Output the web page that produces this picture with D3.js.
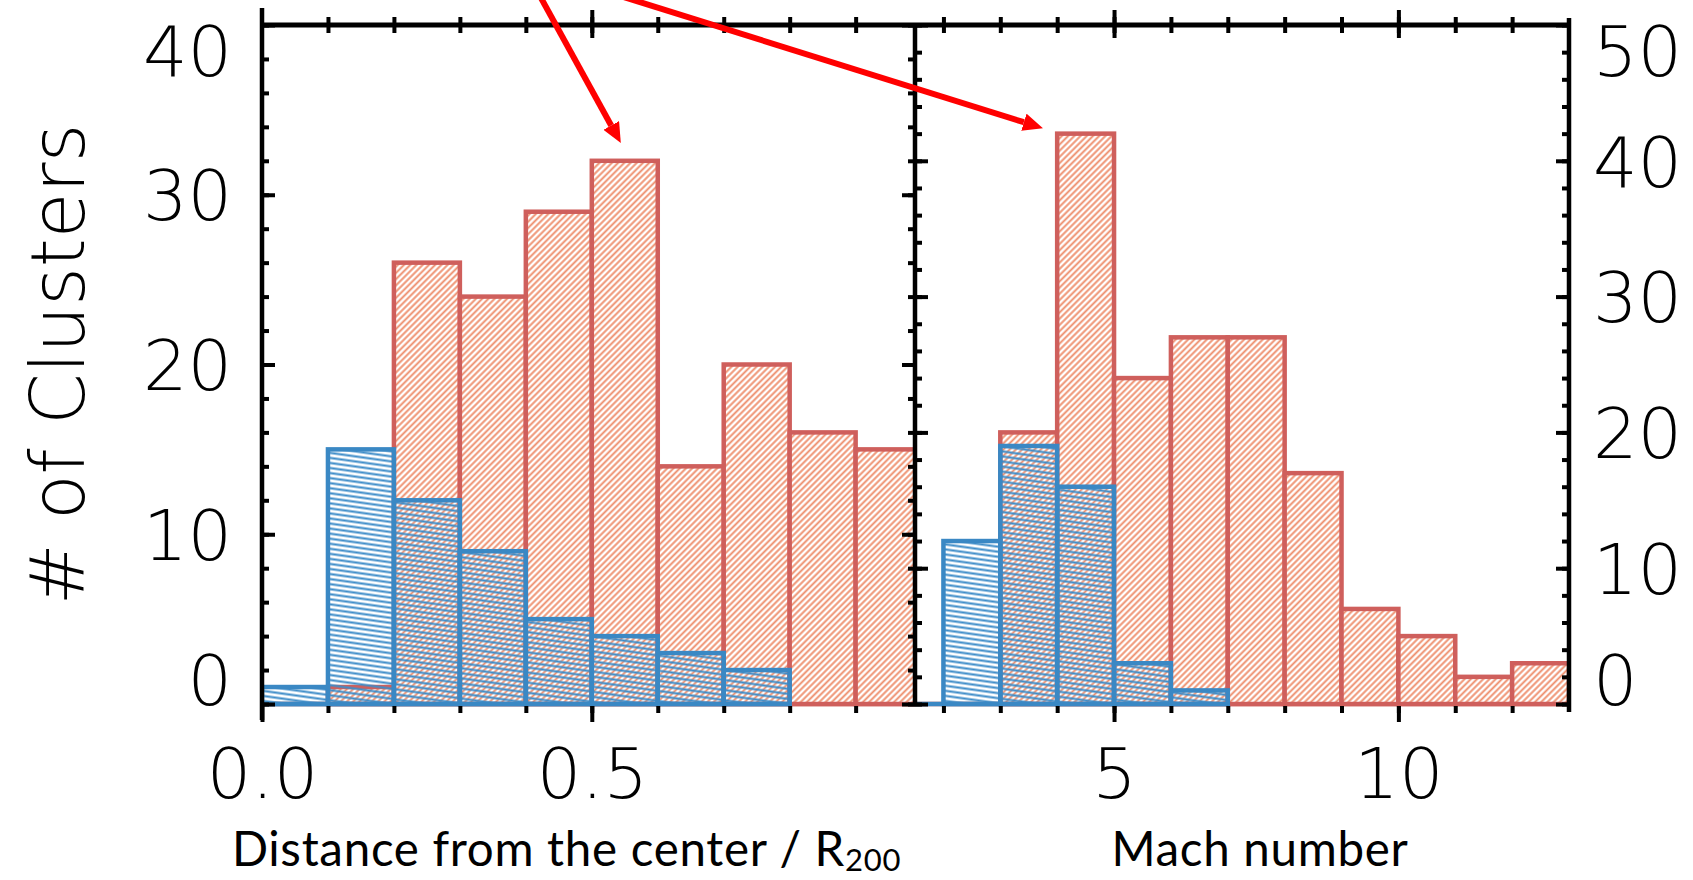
<!DOCTYPE html>
<html>
<head>
<meta charset="utf-8">
<script src="https://cdn.jsdelivr.net/npm/d3@7"></script>
<style>
  html, body { margin: 0; padding: 0; background: #fff; }
  svg { display: block; }
  .num { font-family: "DejaVu Sans", "Lato", sans-serif; font-weight: 200; fill: #000; }
  .title { font-family: "Lato", "Liberation Sans", sans-serif; fill: #000; letter-spacing: 0.7px; }
</style>
</head>
<body>
<svg id="chart" width="1693" height="880"></svg>
<script>
// ---- histogram data -------------------------------------------------------
// Cluster-centric distance, bins of 0.1 R200 (left edges)
const distEdges = [0.0, 0.1, 0.2, 0.3, 0.4, 0.5, 0.6, 0.7, 0.8, 0.9];
const distAll   = [0, 1, 26, 24, 29, 32, 14, 20, 16, 15];
const distSub   = [1, 15, 12, 9, 5, 4, 3, 2, 0, 0];
const distWidth = 0.1;

// Mach number, bins of width 1 (left edges)
const machEdges = [2, 3, 4, 5, 6, 7, 8, 9, 10, 11, 12];
const machAll   = [0, 20, 42, 24, 27, 27, 17, 7, 5, 2, 3];
const machSub   = [12, 19, 16, 3, 1, 0, 0, 0, 0, 0, 0];
const machWidth = 1;

// tick labels
const distTickLabels = [0.0, 0.5];
const machTickLabels = [5, 10];
const countTicksLeft = [0, 10, 20, 30, 40];
const countTicksRight = [0, 10, 20, 30, 40, 50];

// annotation arrows: common origin (distance-panel units) and tips
const arrowOrigin = { x: 0.396, y: 43.5 };
const arrowTips = [
  { panel: "dist", x: 0.544, y: 33.05 },
  { panel: "mach", x: 3.75, y: 42.4 }
];

// ---- colours ---------------------------------------------------------------
const redEdge = "#cf5f5c", redHatch = "#ee8f6d";
const blueEdge = "#3a88c4", blueHatch = "#3d8cc8";

// ---- scales ----------------------------------------------------------------
const svg = d3.select("#chart");
const xL = d3.scaleLinear().domain([0, 0.99]).range([262, 915]);
const xR = d3.scaleLinear().domain([1.5, 13]).range([915, 1569]);
const yL = d3.scaleLinear().domain([0, 40]).range([704, 25]);
const yR = d3.scaleLinear().domain([0, 50]).range([704, 25]);
const panels = {
  dist: { x: xL, y: yL, edges: distEdges, w: distWidth, all: distAll, sub: distSub },
  mach: { x: xR, y: yR, edges: machEdges, w: machWidth, all: machAll, sub: machSub }
};

// ---- hatch patterns --------------------------------------------------------
const defs = svg.append("defs");
const pRed = defs.append("pattern").attr("id", "hatchRed")
  .attr("patternUnits", "userSpaceOnUse").attr("width", 4.4).attr("height", 4.4)
  .attr("patternTransform", "rotate(-45)");
pRed.append("rect").attr("width", 4.4).attr("height", 4.4).attr("fill", "#fff");
pRed.append("line").attr("x1", 0).attr("x2", 4.4).attr("y1", 2.2).attr("y2", 2.2)
  .attr("stroke", redHatch).attr("stroke-width", 1.9);

const pBlue = defs.append("pattern").attr("id", "hatchBlue")
  .attr("patternUnits", "userSpaceOnUse").attr("width", 12).attr("height", 5)
  .attr("patternTransform", "rotate(8)");
pBlue.append("line").attr("x1", 0).attr("x2", 12).attr("y1", 2.5).attr("y2", 2.5)
  .attr("stroke", blueHatch).attr("stroke-width", 2.1);

Object.entries(panels).forEach(([key, p]) => {
  defs.append("clipPath").attr("id", "clip-" + key)
    .append("rect")
    .attr("x", p.x.range()[0]).attr("width", p.x.range()[1] - p.x.range()[0])
    .attr("y", 0).attr("height", 720);
});

// ---- bottom frame line (sits beneath the histograms) -----------------------
svg.append("line")
  .attr("x1", xL.range()[0]).attr("x2", xR.range()[1])
  .attr("y1", yL(0)).attr("y2", yL(0))
  .attr("stroke", "#000").attr("stroke-width", 4);

// ---- histograms ------------------------------------------------------------
function drawSeries(g, p, values, fill, edge) {
  const bins = p.edges.map((e, i) => ({ x0: e, x1: e + p.w, v: values[i] }));
  const last = d3.max(bins.filter(d => d.v > 0), d => d.x1);
  g.append("line")
    .attr("x1", p.x(p.x.domain()[0])).attr("x2", p.x(last))
    .attr("y1", p.y(0)).attr("y2", p.y(0))
    .attr("stroke", edge).attr("stroke-width", 4.5);
  g.selectAll(null).data(bins.filter(d => d.v > 0)).join("rect")
    .attr("x", d => p.x(d.x0))
    .attr("width", d => p.x(d.x1) - p.x(d.x0))
    .attr("y", d => p.y(d.v))
    .attr("height", d => p.y(0) - p.y(d.v))
    .attr("fill", fill)
    .attr("stroke", edge)
    .attr("stroke-width", 4.5);
}

Object.entries(panels).forEach(([key, p]) => {
  const g = svg.append("g").attr("clip-path", `url(#clip-${key})`);
  drawSeries(g, p, p.all, "url(#hatchRed)", redEdge);
  drawSeries(g, p, p.sub, "url(#hatchBlue)", blueEdge);
});

// ---- frame lines -----------------------------------------------------------
const frame = svg.append("g").attr("stroke", "#000").attr("stroke-linecap", "butt");
frame.append("line").attr("x1", xL.range()[0]).attr("x2", xL.range()[0])
  .attr("y1", yL.range()[1] - 17).attr("y2", yL.range()[0] + 16).attr("stroke-width", 4.5);
frame.append("line").attr("x1", xR.range()[0]).attr("x2", xR.range()[0])
  .attr("y1", yL.range()[1]).attr("y2", yL.range()[0]).attr("stroke-width", 4.5);
frame.append("line").attr("x1", xR.range()[1]).attr("x2", xR.range()[1])
  .attr("y1", yR.range()[1] - 7).attr("y2", yR.range()[0] + 8).attr("stroke-width", 4.5);
frame.append("line").attr("x1", xL.range()[0] - 2).attr("x2", xR.range()[1] + 2)
  .attr("y1", yL.range()[1]).attr("y2", yL.range()[1]).attr("stroke-width", 5);

// ---- ticks -------------------------------------------------------------------
function tickLayer(axis, tx, ty) {
  const g = svg.append("g").attr("transform", `translate(${tx},${ty})`).call(axis);
  g.select(".domain").remove();
  g.selectAll(".tick line").attr("stroke", "#000").attr("stroke-width", 4);
  g.selectAll(".tick text").remove();
  return g;
}
const noLabel = () => "";
const distMinor = d3.range(1, 10).map(i => i / 10);
const machMinor = d3.range(2, 13);

// y ticks: left frame, middle frame (both panels), right frame
tickLayer(d3.axisRight(yL).tickValues(d3.range(0, 41, 2)).tickSize(7).tickFormat(noLabel), xL.range()[0], 0);
tickLayer(d3.axisRight(yL).tickValues(countTicksLeft).tickSize(13).tickFormat(noLabel), xL.range()[0], 0);
tickLayer(d3.axisLeft(yL).tickValues(d3.range(0, 41, 2)).tickSize(7).tickFormat(noLabel), xR.range()[0], 0);
tickLayer(d3.axisLeft(yL).tickValues(countTicksLeft).tickSize(13).tickFormat(noLabel), xR.range()[0], 0);
tickLayer(d3.axisRight(yR).tickValues(d3.range(0, 51, 2)).tickSize(7).tickFormat(noLabel), xR.range()[0], 0);
tickLayer(d3.axisRight(yR).tickValues(countTicksRight).tickSize(13).tickFormat(noLabel), xR.range()[0], 0);
tickLayer(d3.axisLeft(yR).tickValues(d3.range(0, 51, 2)).tickSize(7).tickFormat(noLabel), xR.range()[1], 0);
tickLayer(d3.axisLeft(yR).tickValues(countTicksRight).tickSize(13).tickFormat(noLabel), xR.range()[1], 0);

// x ticks: top frame (crossing the line) and bottom frame (pointing down)
function crossTicks(g, up, down) { g.selectAll(".tick line").attr("y1", -up).attr("y2", down); }
crossTicks(tickLayer(d3.axisBottom(xL).tickValues(distMinor).tickFormat(noLabel), 0, yL.range()[1]), 8, 8);
crossTicks(tickLayer(d3.axisBottom(xL).tickValues(distTickLabels.slice(1)).tickFormat(noLabel), 0, yL.range()[1]), 15, 13);
crossTicks(tickLayer(d3.axisBottom(xR).tickValues(machMinor).tickFormat(noLabel), 0, yL.range()[1]), 8, 8);
crossTicks(tickLayer(d3.axisBottom(xR).tickValues(machTickLabels).tickFormat(noLabel), 0, yL.range()[1]), 15, 13);

const base = yL.range()[0];
crossTicks(tickLayer(d3.axisBottom(xL).tickValues(distMinor).tickFormat(noLabel), 0, base), -2, 9);
crossTicks(tickLayer(d3.axisBottom(xL).tickValues(distTickLabels).tickFormat(noLabel), 0, base), -2, 18);
crossTicks(tickLayer(d3.axisBottom(xR).tickValues(machMinor).tickFormat(noLabel), 0, base), -2, 9);
crossTicks(tickLayer(d3.axisBottom(xR).tickValues(machTickLabels).tickFormat(noLabel), 0, base), -2, 18);

// ---- tick labels -------------------------------------------------------------
function labelLayer(axis, tx, ty, dy) {
  const g = svg.append("g").attr("transform", `translate(${tx},${ty})`).call(axis);
  g.attr("font-size", null).attr("font-family", null);
  g.select(".domain").remove();
  g.selectAll(".tick line").remove();
  g.selectAll(".tick text").attr("class", "num").attr("font-size", 70).attr("dy", dy);
  return g;
}
function pullEnds(g, shift) {
  const t = g.selectAll(".tick text").nodes();
  d3.select(t[0]).attr("y", -shift);
  d3.select(t[t.length - 1]).attr("y", shift);
}
pullEnds(labelLayer(d3.axisLeft(yL).tickValues(countTicksLeft).tickSize(0).tickPadding(30), xL.range()[0], 0, "0.36em"), 25);
pullEnds(labelLayer(d3.axisRight(yR).tickValues(countTicksRight).tickSize(0).tickPadding(24), xR.range()[1], 0, "0.36em"), 25);
labelLayer(d3.axisBottom(xL).tickValues(distTickLabels).tickFormat(d3.format(".1f")).tickSize(0).tickPadding(44), 0, base, "0.71em");
labelLayer(d3.axisBottom(xR).tickValues(machTickLabels).tickFormat(d3.format("d")).tickSize(0).tickPadding(44), 0, base, "0.71em");

// ---- axis titles ---------------------------------------------------------------
svg.append("text").attr("class", "num")
  .attr("transform", `translate(84,${(yL.range()[0] + yL.range()[1]) / 2})rotate(-90)`)
  .attr("text-anchor", "middle").attr("font-size", 74)
  .text("# of Clusters");

const t1 = svg.append("text").attr("class", "title")
  .attr("x", (xL.range()[0] + xL.range()[1]) / 2 - 22).attr("y", 866)
  .attr("text-anchor", "middle").attr("font-size", 47.5);
t1.append("tspan").text("Distance from the center / R");
t1.append("tspan").attr("font-size", 31).attr("dy", 5).text("200");

svg.append("text").attr("class", "title")
  .attr("x", (xR.range()[0] + xR.range()[1]) / 2 + 18).attr("y", 866)
  .attr("text-anchor", "middle").attr("font-size", 47.5)
  .text("Mach number");

// ---- arrows --------------------------------------------------------------------
defs.append("marker").attr("id", "head")
  .attr("markerUnits", "userSpaceOnUse").attr("orient", "auto")
  .attr("markerWidth", 22).attr("markerHeight", 18)
  .attr("refX", 0).attr("refY", 9)
  .append("path").attr("d", "M0,0 L20,9 L0,18 Z").attr("fill", "#ff0000");

const ox = xL(arrowOrigin.x), oy = yL(arrowOrigin.y);
arrowTips.forEach(t => {
  const p = panels[t.panel];
  const tx = p.x(t.x), ty = p.y(t.y);
  const len = Math.hypot(tx - ox, ty - oy);
  const ux = (tx - ox) / len, uy = (ty - oy) / len;
  svg.append("line")
    .attr("x1", ox).attr("y1", oy)
    .attr("x2", tx - ux * 20).attr("y2", ty - uy * 20)
    .attr("stroke", "#ff0000").attr("stroke-width", 6)
    .attr("marker-end", "url(#head)");
});
</script>
</body>
</html>
